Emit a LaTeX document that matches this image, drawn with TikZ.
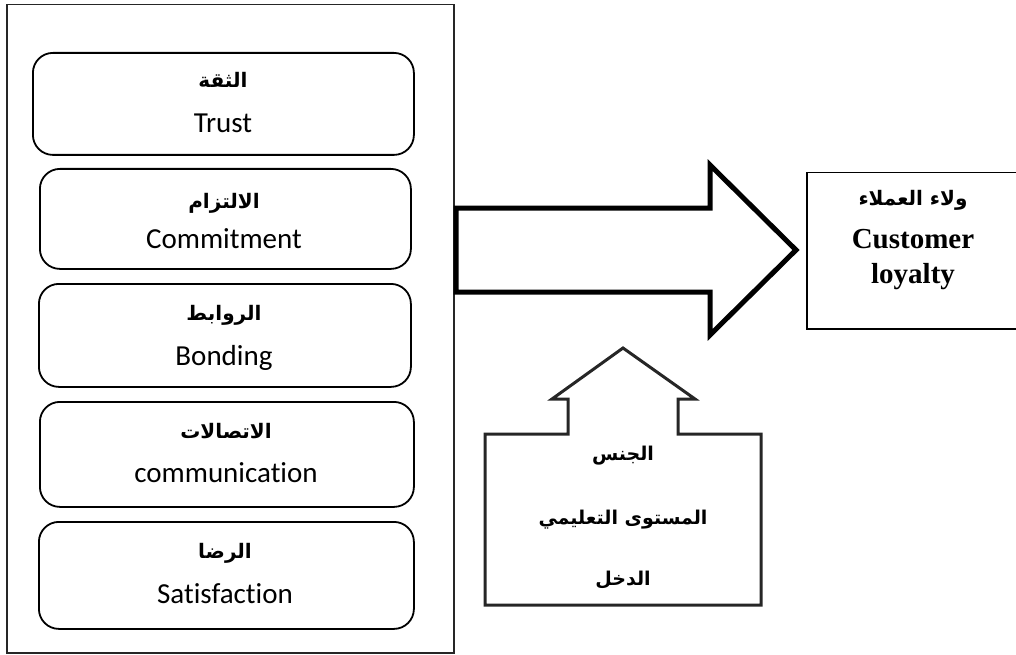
\documentclass[tikz,border=0pt]{standalone}
\usepackage{fontspec}
\setmainfont[Ligatures=NoCommon]{Carlito}
\newfontfamily\arabicfont[Script=Arabic]{DejaVu Sans}
\newfontfamily\timesfont{Liberation Serif}
\TeXXeTstate=1
\begin{document}
\begin{tikzpicture}[x=1pt,y=-1pt,
  ar/.style={font=\arabicfont\bfseries\fontsize{20}{24}\selectfont, anchor=base, inner sep=0pt},
  ars/.style={font=\arabicfont\bfseries\fontsize{19}{23}\selectfont, anchor=base, inner sep=0pt},
  lat/.style={font=\fontsize{29}{32}\selectfont, anchor=base, inner sep=0pt},
  rbox/.style={draw=black, line width=1.8pt, rounded corners=20pt, anchor=north west, inner sep=0pt},
  frame/.style={draw=black!85, line width=1.5pt, anchor=north west, inner sep=0pt},
  bigarrow/.style={draw=black, line width=5pt, line join=miter},
  uparrow/.style={draw=black!85, line width=3pt, line join=miter},
  tbf/.style={font=\timesfont\bfseries\fontsize{29}{32}\selectfont, anchor=base, inner sep=0pt}
]
\useasboundingbox (0,0) rectangle (1016,655);
\clip (0,0) rectangle (1016,655);

% outer frame
\node[frame, minimum width=447pt, minimum height=648pt] (outer) at (6,4) {};

% rounded boxes
\node[rbox, minimum width=381pt, minimum height=102pt] (b1) at (32,52) {};
\node[rbox, minimum width=371pt, minimum height=100pt] (b2) at (39,168) {};
\node[rbox, minimum width=372pt, minimum height=103pt] (b3) at (38,283) {};
\node[rbox, minimum width=374pt, minimum height=105pt] (b4) at (39,401) {};
\node[rbox, minimum width=375pt, minimum height=107pt] (b5) at (38,521) {};

\node[ar] (a1) at (223,88) {\beginR الثقة\endR};
\node[lat] (l1) at (223,133) {Trust};
\node[ar] (a2) at (224,208) {\beginR الالتزام\endR};
\node[lat] (l2) at (224,248) {Commitment};
\node[ar] (a3) at (224,320) {\beginR الروابط\endR};
\node[lat] (l3) at (224,365) {Bonding};
\node[ar] (a4) at (226,438) {\beginR الاتصالات\endR};
\node[lat] (l4) at (226,482) {communication};
\node[ar] (a5) at (225,558) {\beginR الرضا\endR};
\node[lat] (l5) at (225,603) {Satisfaction};

% big right arrow
\draw[bigarrow] (456,208) -- (710,208) -- (710,165) -- (796,250) -- (710,335) -- (710,292) -- (456,292) -- cycle;

% customer loyalty box
\node[frame, draw=black, minimum width=214pt, minimum height=156pt] (cl) at (806,172) {};
\node[ar] (cla) at (913,205) {\beginR ولاء العملاء\endR};
\node[tbf] (clc) at (913,248) {Customer};
\node[tbf] (cll) at (913,283) {loyalty};

% up arrow with box
\draw[uparrow] (485,434) -- (568,434) -- (568,399) -- (552,399) -- (623,348) -- (695,399) -- (678,399) -- (678,434) -- (761,434) -- (761,605) -- (485,605) -- cycle;
\node[ars] (m1) at (623,460) {\beginR الجنس\endR};
\node[ars] (m2) at (623,524) {\beginR المستوى التعليمي\endR};
\node[ars] (m3) at (623,585) {\beginR الدخل\endR};
\end{tikzpicture}
\end{document}
